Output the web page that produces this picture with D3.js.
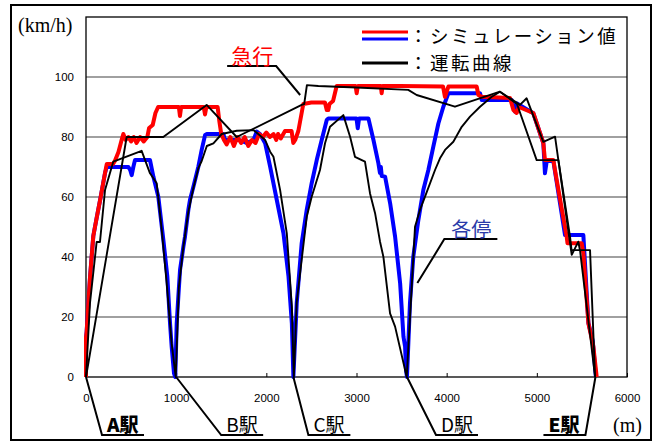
<!DOCTYPE html>
<html>
<head>
<meta charset="utf-8">
<script src="https://cdn.jsdelivr.net/npm/d3@7"></script>
<style>
body { margin: 0; background: #fff; }
text { font-family: "Liberation Sans", Arial, sans-serif; }
.jp { font-family: "Noto Sans CJK JP", sans-serif; }
.serif { font-family: "Liberation Serif", "Times New Roman", serif; }
</style>
</head>
<body>
<svg id="chart" width="663" height="443"></svg>
<script>
// [distance m, speed km/h]
var expressSim = [[0,0],[0,13],[7,15],[44,33],[81,47],[118,53],[163,60],[211,68],[230,71],[300,71],[320,72],[360,75],[395,79],[414,81],[440,79],[470,80],[500,78.5],[530,80],[560,78],[600,80],[640,78.5],[680,80],[700,83],[740,84],[770,88],[800,90],[900,90],[1030,90],[1042,87],[1055,90],[1305,90],[1320,87.5],[1335,90],[1460,90],[1480,85],[1500,81],[1530,79],[1560,77.5],[1600,80],[1640,77],[1680,80],[1720,78],[1760,80],[1800,77],[1840,79],[1880,78],[1920,81],[1960,80],[2000,81.5],[2040,80],[2080,81],[2110,79],[2130,81],[2160,79.5],[2207,82],[2280,82],[2299,78],[2320,79],[2355,82],[2410,91],[2500,91.5],[2650,91.5],[2670,89],[2687,89],[2700,91],[2740,92],[2780,97],[2990,97],[3002,94.6],[3015,97],[3270,97],[3279,94.6],[3290,97],[3480,97],[3960,96.8],[3981,93.4],[4019,96.8],[4333,96.8],[4352,94],[4389,93.4],[4703,93],[4740,89],[4776,88],[4800,90],[4961,88],[5072,78],[5090,72.3],[5183,72.3],[5220,65.7],[5331,46.8],[5340,44.6],[5497,44.6],[5516,41.2],[5572,17.9],[5627,10.1],[5664,0]];

var localSim = [[0,0],[0,13],[7,15],[44,33],[81,47],[118,53],[163,60],[211,68],[230,70],[303,70],[470,70],[490,69],[507,67.3],[525,70],[543,72.3],[710,72.3],[747,66.8],[802,60.1],[858,45.7],[902,33.5],[932,17.9],[950,10.1],[976,1.2],[990,0],[1006,17.9],[1024,26.8],[1043,35.7],[1080,43.4],[1098,46.8],[1135,55.7],[1153,59],[1191,63.4],[1246,70.1],[1283,75.7],[1321,80.7],[1340,81],[1524,81],[1540,79],[1700,79],[1780,78],[1857,79],[1894,81.8],[1930,81],[1987,77.9],[2042,70.1],[2116,59],[2190,47.9],[2246,33.5],[2283,17.9],[2300,0],[2337,24.6],[2392,44.6],[2448,55.7],[2503,64.6],[2559,72.3],[2614,79],[2670,85.7],[2688,86.2],[3000,86.2],[3014,82.9],[3028,86.2],[3132,86.2],[3188,79],[3243,71.2],[3260,68],[3270,70],[3280,67],[3317,66.8],[3373,57.9],[3428,46.8],[3484,31.2],[3521,13.4],[3539,10.1],[3549,2.3],[3560,0],[3593,24.6],[3630,40.1],[3686,52.3],[3741,62.3],[3797,69],[3852,76.8],[3908,84.5],[3963,90.1],[4019,94.6],[4370,94.6],[4389,92.3],[4721,92.3],[4758,88.4],[4780,91.2],[4961,87.9],[5072,78],[5090,67.9],[5110,72],[5183,72],[5220,65],[5313,47.3],[5516,47.3],[5572,18],[5620,12],[5655,0]];

var expressRun = [[0,0],[451,80],[857,80],[1338,90.7],[1671,80],[2392,90.7],[2420,91],[2450,97.3],[2577,97],[3000,96.5],[3574,95.7],[3667,94],[4092,90.1],[4591,95.1],[4813,90.7],[4887,92.9],[5072,78.4],[5202,80.1],[5387,40.7],[5460,45.1],[5480,42],[5646,0]];

var localRun = [[0,0],[44,24.6],[118,45],[155,45],[211,62.3],[303,71.8],[617,75.4],[710,67.9],[784,64.6],[840,49],[895,31.2],[950,11.2],[995,0],[1030,30],[1080,43.4],[1135,55],[1191,63],[1246,69.6],[1283,72],[1340,77],[1413,77.9],[1505,81],[1672,82.1],[1857,82.3],[1910,81],[1987,79],[2042,75.1],[2079,73.4],[2153,62.3],[2227,47.9],[2283,23.4],[2305,0],[2337,25],[2448,53.4],[2503,60.1],[2595,69],[2651,77.9],[2706,83.4],[2854,87.3],[2929,80.1],[2983,73.4],[3094,71.8],[3150,61.2],[3206,54.6],[3261,45.1],[3298,40.1],[3372,21.2],[3428,16.8],[3557,0],[3649,50.1],[3704,55.7],[3760,60.1],[3871,69],[3926,72.9],[3982,75.7],[4074,78.4],[4167,83.4],[4259,86.8],[4370,90.1],[4500,93.4],[4591,95.1],[4780,91],[4998,72.3],[5239,72.3],[5368,46.8],[5385,42.3],[5590,42.3],[5646,0]];

var stations = [{name: 'A駅', m: 0}, {name: 'B駅', m: 1000}, {name: 'C駅', m: 2300}, {name: 'D駅', m: 3560}, {name: 'E駅', m: 5650}];
var xTicks = [0, 1000, 2000, 3000, 4000, 5000, 6000];
var yTicks = [0, 20, 40, 60, 80, 100];

// callout layout for the station labels (pixels from the station on the axis)
var stationLayout = [{dx: 16, dir: 1, bold: true}, {dx: 45, dir: 1}, {dx: 15, dir: 1}, {dx: 29, dir: 1}, {dx: -10, dir: -1, bold: true}];

var svg = d3.select('#chart');
var x = d3.scaleLinear().domain([0, 6000]).range([86, 627]);
var y = d3.scaleLinear().domain([0, 120]).range([377, 17]);

// outer frame
svg.append('rect').attr('x', 11).attr('y', 5).attr('width', 640).attr('height', 435)
    .attr('fill', 'none').attr('stroke', '#000').attr('stroke-width', 2);

// grid
svg.append('g').selectAll('line').data(yTicks.filter(function(d) { return d > 0; })).join('line')
    .attr('x1', x(0)).attr('x2', x(6000))
    .attr('y1', function(d) { return y(d); }).attr('y2', function(d) { return y(d); })
    .attr('stroke', '#808080').attr('stroke-width', 1.5);

// axes
var yAxis = svg.append('g').attr('transform', 'translate(' + x(0) + ',0)')
    .call(d3.axisLeft(y).tickValues(yTicks).tickSize(0).tickPadding(12));
yAxis.select('.domain').remove();
yAxis.selectAll('text').attr('font-size', 11.5).attr('font-family', 'Liberation Sans, Arial, sans-serif');

var xAxis = svg.append('g').attr('transform', 'translate(0,' + y(0) + ')')
    .call(d3.axisBottom(x).tickValues(xTicks).tickFormat(d3.format('d'))
        .tickSizeInner(-4).tickSizeOuter(0).tickPadding(17));
xAxis.select('.domain').remove();
xAxis.selectAll('line').attr('stroke', '#000');
xAxis.selectAll('text').attr('font-size', 11.5).attr('font-family', 'Liberation Sans, Arial, sans-serif');

// plot frame
svg.append('rect').attr('x', x(0)).attr('y', y(120)).attr('width', x(6000) - x(0)).attr('height', y(0) - y(120))
    .attr('fill', 'none').attr('stroke', '#000').attr('stroke-width', 1.3);

// series
var line = d3.line().x(function(d) { return x(d[0]); }).y(function(d) { return y(d[1]); });
var series = [
    {data: localSim, color: '#0000ff', w: 4},
    {data: expressSim, color: '#ff0000', w: 4},
    {data: localRun, color: '#000', w: 1.9},
    {data: expressRun, color: '#000', w: 1.9}
];
svg.append('g').selectAll('path').data(series).join('path')
    .attr('d', function(d) { return line(d.data); })
    .attr('fill', 'none')
    .attr('stroke', function(d) { return d.color; })
    .attr('stroke-width', function(d) { return d.w; })
    .attr('stroke-linejoin', 'round');

// axis titles
svg.append('text').attr('class', 'serif').attr('x', 18).attr('y', 32).attr('font-size', 20).text('(km/h)');
svg.append('text').attr('class', 'serif').attr('x', 613).attr('y', 432).attr('font-size', 20).text('(m)');

// station callouts
var st = svg.append('g');
stations.forEach(function(s, i) {
    var l = stationLayout[i], x0 = x(s.m), fx = x0 + l.dx, fy = 435;
    var ux = fx + 42 * l.dir;
    st.append('path').attr('d', 'M' + x0 + ',' + y(0) + 'L' + fx + ',' + fy + 'L' + ux + ',' + fy)
        .attr('fill', 'none').attr('stroke', '#000').attr('stroke-width', 2);
    st.append('text').attr('class', 'jp')
        .attr('x', Math.min(fx, ux) + 5).attr('y', 432)
        .attr('font-size', 19).attr('font-weight', l.bold ? 900 : 400)
        .text(s.name);
});

// train type callouts
var ann = svg.append('g');
var exTip = [x(2375), y(94)];
ann.append('path').attr('d', 'M' + exTip[0] + ',' + exTip[1] + 'L' + (exTip[0] - 24) + ',' + (exTip[1] - 29) + 'l-49,0')
    .attr('fill', 'none').attr('stroke', '#000').attr('stroke-width', 2);
ann.append('text').attr('class', 'jp').attr('x', exTip[0] - 48).attr('y', exTip[1] - 31)
    .attr('text-anchor', 'middle').attr('font-size', 21).attr('fill', '#ff0000').text('急行');

var lcTip = [x(3675), y(31.3)];
ann.append('path').attr('d', 'M' + lcTip[0] + ',' + lcTip[1] + 'L' + (lcTip[0] + 27) + ',' + (lcTip[1] - 44) + 'l53,0')
    .attr('fill', 'none').attr('stroke', '#000').attr('stroke-width', 2);
ann.append('text').attr('class', 'jp').attr('x', lcTip[0] + 54).attr('y', lcTip[1] - 46)
    .attr('text-anchor', 'middle').attr('font-size', 20).attr('fill', '#2a3aa8').text('各停');

// legend
var lg = svg.append('g');
lg.append('line').attr('x1', 362).attr('x2', 408).attr('y1', 32).attr('y2', 32).attr('stroke', '#ff0000').attr('stroke-width', 3);
lg.append('line').attr('x1', 362).attr('x2', 408).attr('y1', 39).attr('y2', 39).attr('stroke', '#0000ff').attr('stroke-width', 3);
lg.append('line').attr('x1', 362).attr('x2', 408).attr('y1', 63).attr('y2', 63).attr('stroke', '#000').attr('stroke-width', 3);
lg.append('text').attr('class', 'jp').attr('x', 409).attr('y', 43).attr('font-size', 18.5)
    .attr('letter-spacing', 2.5).text('：シミュレーション値');
lg.append('text').attr('class', 'jp').attr('x', 409).attr('y', 69.5).attr('font-size', 18.5)
    .attr('letter-spacing', 2.5).text('：運転曲線');
</script>
</body>
</html>
